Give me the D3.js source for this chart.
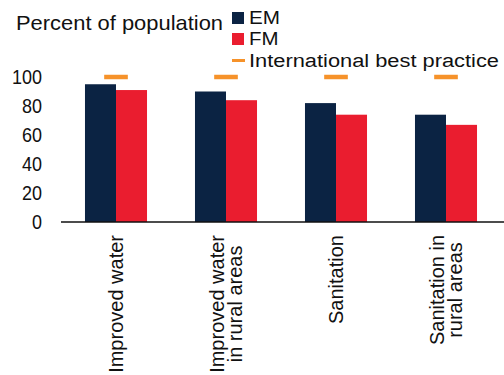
<!DOCTYPE html>
<html>
<head>
<meta charset="utf-8">
<script src="https://cdn.jsdelivr.net/npm/d3@7"></script>
<style>
  html, body { margin: 0; padding: 0; background: #ffffff; }
  svg { display: block; }
  text { font-family: "Liberation Sans", Arial, sans-serif; fill: #111111; }
</style>
</head>
<body>
<svg id="chart" width="504" height="375"></svg>
<script>
// ---- data ----
const categories = [
  ["Improved water"],
  ["Improved water", "in rural areas"],
  ["Sanitation"],
  ["Sanitation in", "rural areas"]
];
const categoryKeys = ["Improved water", "Improved water in rural areas", "Sanitation", "Sanitation in rural areas"];
const seriesNames = ["EM", "FM"];
const emValues = [95, 90, 82, 74];
const fmValues = [91, 84, 74, 67];
const bestPractice = [100, 100, 100, 100];
const yTicks = [0, 20, 40, 60, 80, 100];
const legendLabels = ["EM", "FM", "International best practice"];
const titleText = "Percent of population";

// ---- styles ----
const colors = { EM: "#0b2343", FM: "#ea1d2f", best: "#f6922a" };

const svg = d3.select("#chart");

const x0 = d3.scaleBand().domain(categoryKeys).range([61, 501]).padding(0);
const step = x0.bandwidth();
const x1 = d3.scaleBand().domain(seriesNames).range([step * 0.218, step * 0.782]).padding(0);
const y = d3.scaleLinear().domain([0, 100]).range([222, 77]);

const seriesValues = { EM: emValues, FM: fmValues };

// bars
seriesNames.forEach(s => {
  svg.append("g").selectAll("rect")
    .data(categoryKeys.map((c, i) => ({ c, v: seriesValues[s][i] })))
    .join("rect")
    .attr("x", d => x0(d.c) + x1(s))
    .attr("width", x1.bandwidth())
    .attr("y", d => y(d.v))
    .attr("height", d => y(0) - y(d.v))
    .attr("fill", colors[s]);
});

// best practice markers
const markW = step * 0.215;
svg.append("g").selectAll("line")
  .data(categoryKeys.map((c, i) => ({ c, v: bestPractice[i] })))
  .join("line")
  .attr("x1", d => x0(d.c) + step / 2 - markW / 2)
  .attr("x2", d => x0(d.c) + step / 2 + markW / 2)
  .attr("y1", d => y(d.v))
  .attr("y2", d => y(d.v))
  .attr("stroke", colors.best)
  .attr("stroke-width", 4.5);

// y axis
const yAxis = svg.append("g")
  .attr("transform", "translate(61,0)")
  .call(d3.axisLeft(y).tickValues(yTicks).tickSize(0).tickPadding(19).tickFormat(d3.format("d")));
yAxis.select(".domain").remove();
yAxis.selectAll("text")
  .attr("font-size", 20)
  .attr("font-family", "'Liberation Sans', Arial, sans-serif")
  .attr("fill", "#111111")
  .attr("textLength", d => String(d).length * 10)
  .attr("lengthAdjust", "spacingAndGlyphs");

// x axis baseline
svg.append("line")
  .attr("x1", x0.range()[0]).attr("x2", 504)
  .attr("y1", y(0)).attr("y2", y(0))
  .attr("stroke", "#111").attr("stroke-width", 1.3);

// x labels (rotated, multi-line centered, block ends at top)
const lineGap = 18.5;
categoryKeys.forEach((key, i) => {
  const lines = categories[i];
  const cx = x0(key) + step / 2;
  const g = svg.append("g").attr("transform", `translate(${cx},235) rotate(-90)`);
  const texts = lines.map((ln, j) => g.append("text")
    .attr("font-size", 20)
    .attr("y", (j - (lines.length - 1) / 2) * lineGap + 7)
    .text(ln));
  const maxW = d3.max(texts, t => t.node().getComputedTextLength());
  texts.forEach(t => t.attr("text-anchor", "middle").attr("x", -maxW / 2));
});

// title
svg.append("text")
  .attr("x", 16).attr("y", 30)
  .attr("font-size", 21)
  .attr("textLength", 207).attr("lengthAdjust", "spacingAndGlyphs")
  .text(titleText);

// legend
const legX = 232;
const legRows = [
  { label: legendLabels[0], type: "rect", color: colors.EM, base: 24, len: 31 },
  { label: legendLabels[1], type: "rect", color: colors.FM, base: 45, len: 29.5 },
  { label: legendLabels[2], type: "line", color: colors.best, base: 66.5, len: 250 }
];
legRows.forEach(r => {
  if (r.type === "rect") {
    svg.append("rect").attr("x", legX).attr("y", r.base - 12)
      .attr("width", 12).attr("height", 12).attr("fill", r.color);
  } else {
    svg.append("line").attr("x1", legX).attr("x2", legX + 13)
      .attr("y1", r.base - 6).attr("y2", r.base - 6)
      .attr("stroke", r.color).attr("stroke-width", 3);
  }
  svg.append("text")
    .attr("x", 249).attr("y", r.base)
    .attr("font-size", 18)
    .attr("textLength", r.len).attr("lengthAdjust", "spacingAndGlyphs")
    .text(r.label);
});
</script>
</body>
</html>
